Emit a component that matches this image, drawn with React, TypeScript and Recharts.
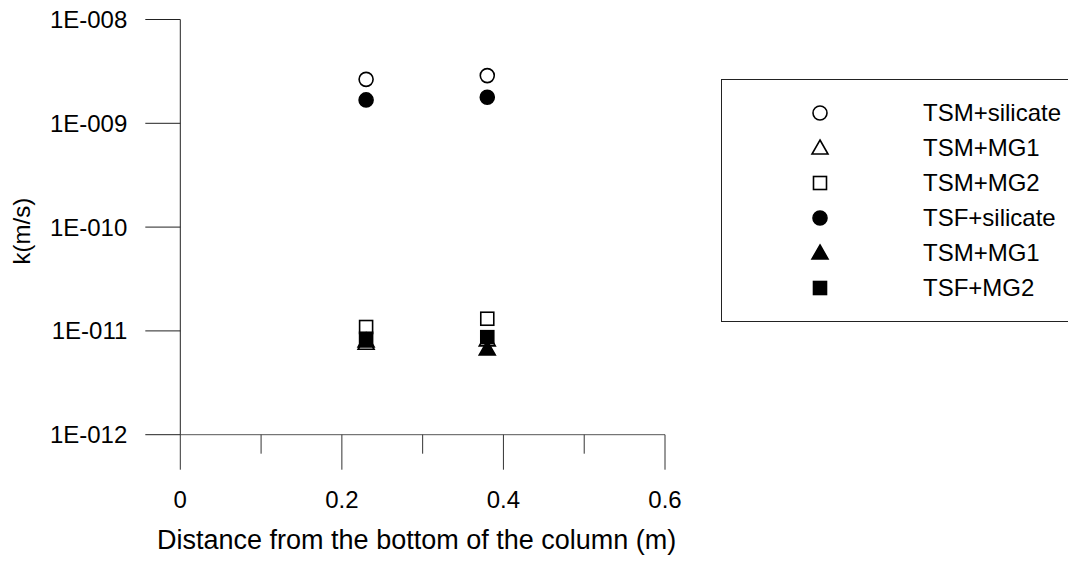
import { ScatterChart, Scatter, XAxis, YAxis, Label } from 'recharts';

// distance from the bottom of the column (m)
const distance = [0.23, 0.38];

// hydraulic conductivity k (m/s) for each mix
const tsmSilicate = [2.65e-9, 2.88e-9];
const tsmMg1 = [7.6e-12, 8.2e-12];
const tsmMg2 = [1.09e-11, 1.31e-11];
const tsfSilicate = [1.68e-9, 1.78e-9];
const tsmMg1Solid = [8.0e-12, 6.7e-12];
const tsfMg2 = [8.4e-12, 8.7e-12];

const seriesNames = ['TSM+silicate', 'TSM+MG1', 'TSM+MG2', 'TSF+silicate', 'TSM+MG1', 'TSF+MG2'];

const xTicks = [0, 0.1, 0.2, 0.3, 0.4, 0.5, 0.6];
const xTickLabels = ['0', '', '0.2', '', '0.4', '', '0.6'];
const yTicks = [1e-12, 1e-11, 1e-10, 1e-9, 1e-8];
const yTickLabels = ['1E-012', '1E-011', '1E-010', '1E-009', '1E-008'];

const FONT = '"Liberation Sans", Arial, sans-serif';
const FONT_SIZE = 24;
const TITLE_SIZE = 27;

type Kind = 'circle' | 'triangle' | 'square';

const series: { name: string; values: number[]; kind: Kind; filled: boolean }[] = [
  { name: seriesNames[0], values: tsmSilicate, kind: 'circle', filled: false },
  { name: seriesNames[1], values: tsmMg1, kind: 'triangle', filled: false },
  { name: seriesNames[2], values: tsmMg2, kind: 'square', filled: false },
  { name: seriesNames[3], values: tsfSilicate, kind: 'circle', filled: true },
  { name: seriesNames[4], values: tsmMg1Solid, kind: 'triangle', filled: true },
  { name: seriesNames[5], values: tsfMg2, kind: 'square', filled: true },
];

function Marker({ cx, cy, kind, filled }: { cx: number; cy: number; kind: Kind; filled: boolean }) {
  const fill = filled ? '#000' : '#fff';
  if (kind === 'circle') {
    return <circle cx={cx} cy={cy} r={7} fill={fill} stroke="#000" strokeWidth={1.6} />;
  }
  if (kind === 'square') {
    return <rect x={cx - 6.5} y={cy - 6.5} width={13} height={13} fill={fill} stroke="#000" strokeWidth={1.6} />;
  }
  return (
    <polygon
      points={`${cx},${cy - 8} ${cx + 8},${cy + 6} ${cx - 8},${cy + 6}`}
      fill={fill}
      stroke="#000"
      strokeWidth={1.6}
    />
  );
}

function YTick(props: any) {
  const { x, y, index } = props;
  return (
    <g>
      <line x1={x - 35} y1={y} x2={x} y2={y} stroke="#222" strokeWidth={1} />
      <text x={x - 53} y={y} textAnchor="end" dominantBaseline="central" fontFamily={FONT} fontSize={FONT_SIZE} fill="#000">
        {yTickLabels[index]}
      </text>
    </g>
  );
}

function XTick(props: any) {
  const { x, y, index } = props;
  const label = xTickLabels[index];
  const major = label !== '';
  return (
    <g>
      <line x1={x} y1={y} x2={x} y2={y + (major ? 35 : 19)} stroke="#333" strokeWidth={1} />
      {major && (
        <text x={x} y={y + 65} textAnchor="middle" dominantBaseline="central" fontFamily={FONT} fontSize={FONT_SIZE} fill="#000">
          {label}
        </text>
      )}
    </g>
  );
}

// legend box runs off the right edge, so it has no right border
function LegendBox() {
  return (
    <div
      style={{
        position: 'absolute',
        left: 721,
        top: 79,
        width: 355,
        height: 243,
        borderTop: '1px solid #222',
        borderLeft: '1px solid #222',
        borderBottom: '1px solid #222',
        boxSizing: 'border-box',
        fontFamily: FONT,
        fontSize: FONT_SIZE,
      }}
    >
      {series.map((s, i) => (
        <div key={i} style={{ position: 'absolute', left: 0, top: 33 + i * 35 - 14, height: 28, width: 350 }}>
          <svg width={40} height={28} style={{ position: 'absolute', left: 78, top: 0 }}>
            <Marker cx={20} cy={14} kind={s.kind} filled={s.filled} />
          </svg>
          <span style={{ position: 'absolute', left: 201, top: 0, lineHeight: '28px', whiteSpace: 'nowrap' }}>{s.name}</span>
        </div>
      ))}
    </div>
  );
}

export default function App() {
  return (
    <div style={{ position: 'relative', margin: -8, width: 1076, height: 565, background: '#fff' }}>
      <ScatterChart width={1076} height={565} margin={{ top: 19.5, right: 411, bottom: 10.3, left: 20.3 }}>
        <XAxis
          type="number"
          dataKey="x"
          domain={[0, 0.6]}
          ticks={xTicks}
          interval={0}
          allowDataOverflow
          height={120}
          axisLine={{ stroke: '#555', strokeWidth: 1 }}
          tickLine={false}
          tickSize={0}
          tickMargin={0}
          tick={<XTick />}
        >
          <Label
            content={(p: any) => {
              const vb = p.viewBox;
              return (
                <text x={vb.x + vb.width / 2 - 6} y={vb.y + 105} textAnchor="middle" dominantBaseline="central" fontFamily={FONT} fontSize={TITLE_SIZE} fill="#000">
                  Distance from the bottom of the column (m)
                </text>
              );
            }}
          />
        </XAxis>
        <YAxis
          type="number"
          dataKey="y"
          scale="log"
          domain={[1e-12, 1e-8]}
          ticks={yTicks}
          interval={0}
          allowDataOverflow
          width={160}
          axisLine={{ stroke: '#222', strokeWidth: 1 }}
          tickLine={false}
          tickSize={0}
          tickMargin={0}
          tick={<YTick />}
        >
          <Label
            content={(p: any) => {
              const vb = p.viewBox;
              const cx = 22;
              const cy = vb.y + vb.height / 2 + 4;
              return (
                <text x={cx} y={cy} transform={`rotate(-90 ${cx} ${cy})`} textAnchor="middle" dominantBaseline="central" fontFamily={FONT} fontSize={FONT_SIZE} fill="#000">
                  k(m/s)
                </text>
              );
            }}
          />
        </YAxis>
        {series.map((s, i) => (
          <Scatter
            key={i}
            name={s.name}
            data={distance.map((d, j) => ({ x: d, y: s.values[j] }))}
            isAnimationActive={false}
            shape={(p: any) => <Marker cx={p.cx} cy={p.cy} kind={s.kind} filled={s.filled} />}
          />
        ))}
      </ScatterChart>
      <LegendBox />
    </div>
  );
}
